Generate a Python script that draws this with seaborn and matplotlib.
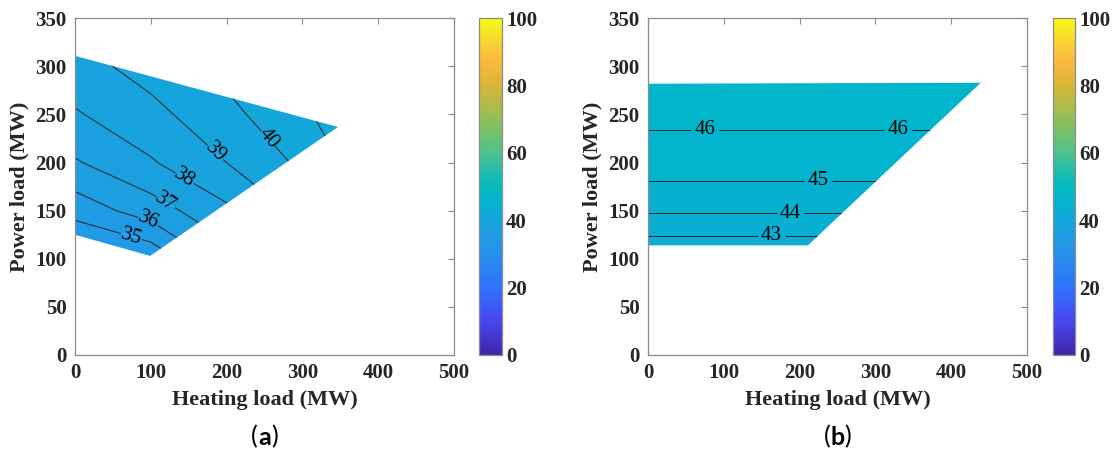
import numpy as np
import matplotlib
matplotlib.use("Agg")
import matplotlib.pyplot as plt
import seaborn as sns
from matplotlib.colors import LinearSegmentedColormap, Normalize
from matplotlib.patches import Polygon
from matplotlib.cm import ScalarMappable
from matplotlib.offsetbox import TextArea, HPacker, AnchoredOffsetbox

# ---------------- data ----------------
# Panel (a): efficiency field
heat_grid_a = [0, 100, 200, 300, 350]
power_grid_a = [100, 150, 200, 250, 300, 320]
eff_a = [
    [33.4, 34.2, 36.5, 38.3, 39.5],
    [35.4, 36.5, 37.8, 39.3, 40.3],
    [36.9, 37.9, 39.0, 40.2, 41.0],
    [37.9, 38.7, 39.7, 40.85, 41.4],
    [38.6, 39.4, 40.3, 41.4, 41.8],
    [38.8, 39.6, 40.5, 41.6, 42.0],
]
region_a_heat = [0, 347, 99, 0]
region_a_power = [311, 237, 103, 125]
line_levels_a = [35, 36, 37, 38, 39, 40, 41]
fill_levels_a = [33, 34, 35, 36, 37, 38, 39, 40, 41, 42, 43]
label_pos_a = [(73, 120), (95, 136), (117, 156), (141, 180), (182, 208), (250, 222)]

# Panel (b)
heat_grid_b = [0, 450]
power_grid_b = [100, 125, 150, 175, 200, 225, 250, 275, 300]
eff_b_profile = [41.9, 43.05, 44.12, 44.88, 45.39, 45.85, 46.25, 46.6, 46.9]
region_b_heat = [0, 439, 211, 0]
region_b_power = [282, 283, 114, 114]
line_levels_b = [43, 44, 45, 46]
fill_levels_b = [41, 42, 43, 44, 45, 46, 47]
label_pos_b = [(75, 233), (330, 233), (224, 179), (188, 146), (163, 124)]

x_ticks = [0, 100, 200, 300, 400, 500]
y_ticks = [0, 50, 100, 150, 200, 250, 300, 350]
cbar_ticks = [0, 20, 40, 60, 80, 100]
x_label = "Heating load (MW)"
y_label = "Power load (MW)"
panel_tags = ["a", "b"]

# ---------------- style ----------------
sns.set_theme(style="white")
plt.rcParams["font.family"] = ["Liberation Serif", "DejaVu Sans"]
plt.rcParams["font.weight"] = "bold"

parula_anchors = [
    (0.00, (0.242, 0.150, 0.660)),
    (0.10, (0.275, 0.275, 0.940)),
    (0.20, (0.180, 0.450, 0.990)),
    (0.30, (0.150, 0.560, 0.920)),
    (0.35, (0.125, 0.605, 0.890)),
    (0.40, (0.080, 0.650, 0.860)),
    (0.46, (0.000, 0.710, 0.800)),
    (0.52, (0.050, 0.740, 0.720)),
    (0.60, (0.300, 0.760, 0.550)),
    (0.70, (0.560, 0.750, 0.350)),
    (0.80, (0.850, 0.710, 0.210)),
    (0.88, (0.990, 0.730, 0.250)),
    (0.94, (0.970, 0.850, 0.180)),
    (1.00, (0.975, 0.985, 0.080)),
]
parula = LinearSegmentedColormap.from_list("parula", parula_anchors, N=256)
norm = Normalize(0, 100)

W, H = 1112, 450
fig = plt.figure(figsize=(W / 100, H / 100), dpi=100)

axes_px = [(75, 454), (648, 1027)]
cbar_px = [(479, 502), (1053, 1075)]
ax_bottom, ax_top = 355, 18.3

spine_col = "#8c8c8c"
text_col = "#262626"


def draw_panel(idx, hx, py, Z, rx, ry, fill_lv, line_lv, lab_pos):
    x0, x1 = axes_px[idx]
    ax = fig.add_axes([x0 / W, 1 - ax_bottom / H, (x1 - x0) / W, (ax_bottom - ax_top) / H])
    X, Y = np.meshgrid(hx, py)
    Z = np.asarray(Z, dtype=float)
    poly = Polygon(np.column_stack([rx, ry]), closed=True, facecolor="none",
                   edgecolor="none", transform=ax.transData)
    ax.add_patch(poly)
    cf = ax.contourf(X, Y, Z, levels=fill_lv, cmap=parula, norm=norm,
                     antialiased=True)
    cf.set_clip_path(poly)
    cl = ax.contour(X, Y, Z, levels=line_lv, colors="#202020", linewidths=0.7)
    cl.set_clip_path(poly)
    texts = ax.clabel(cl, manual=lab_pos, inline=True, inline_spacing=5,
                      fontsize=15, fmt="%d", colors="black")
    for t in texts:
        t.set_fontweight("normal")
        t.set_clip_path(poly)
    ax.set_xlim(0, 500)
    ax.set_ylim(0, 350)
    ax.set_xticks(x_ticks)
    ax.set_yticks(y_ticks)
    ax.tick_params(direction="in", length=4, width=0.8, color=spine_col,
                   top=True, right=True, labelsize=15, labelcolor=text_col, pad=6)
    for lab in ax.get_xticklabels() + ax.get_yticklabels():
        lab.set_fontweight("bold")
    for s in ax.spines.values():
        s.set_color(spine_col)
        s.set_linewidth(0.9)
        s.set_visible(True)
    ax.set_xlabel(x_label, fontsize=16, fontweight="bold", color=text_col, labelpad=5)
    ax.set_ylabel(y_label, fontsize=16, fontweight="bold", color=text_col, labelpad=4)
    ax.set_facecolor("white")

    c0, c1 = cbar_px[idx]
    cax = fig.add_axes([c0 / W, 1 - ax_bottom / H, (c1 - c0) / W, (ax_bottom - ax_top) / H])
    sm = ScalarMappable(norm=norm, cmap=parula)
    cb = fig.colorbar(sm, cax=cax, ticks=cbar_ticks)
    cb.outline.set_edgecolor(spine_col)
    cb.outline.set_linewidth(0.9)
    cax.tick_params(direction="in", length=4, width=0.8, color=spine_col,
                    labelsize=15, labelcolor=text_col, pad=3)
    for lab in cax.get_yticklabels():
        lab.set_fontweight("bold")

    # panel tag "(a)" with bold letter
    tp = dict(family="Lato", size=18, color="black")
    parts = [TextArea("(", textprops=dict(tp, weight="normal")),
             TextArea(panel_tags[idx], textprops=dict(tp, weight="bold")),
             TextArea(")", textprops=dict(tp, weight="normal"))]
    box = HPacker(children=parts, align="baseline", pad=0, sep=0)
    anch = AnchoredOffsetbox(loc="center", child=box, frameon=False,
                             bbox_to_anchor=((x0 + x1) / 2 / W, 1 - 437 / H),
                             bbox_transform=fig.transFigure, pad=0, borderpad=0)
    fig.add_artist(anch)
    return ax


draw_panel(0, heat_grid_a, power_grid_a, eff_a, region_a_heat, region_a_power,
           fill_levels_a, line_levels_a, label_pos_a)
eff_b = [[v] * len(heat_grid_b) for v in eff_b_profile]
draw_panel(1, heat_grid_b, power_grid_b, eff_b, region_b_heat, region_b_power,
           fill_levels_b, line_levels_b, label_pos_b)

fig.savefig("out.png", dpi=100, facecolor="white")
